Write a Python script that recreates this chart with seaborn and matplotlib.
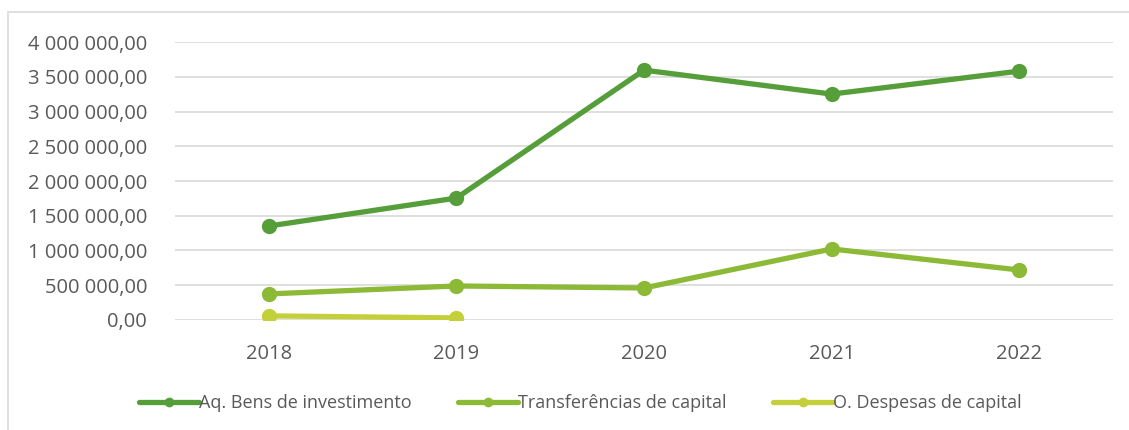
import seaborn as sns
import matplotlib.pyplot as plt
import matplotlib
import pandas as pd
from matplotlib.ticker import FuncFormatter, MultipleLocator
from matplotlib.patches import Rectangle
from matplotlib.lines import Line2D
matplotlib.use('Agg')

anos = ["2018", "2019", "2020", "2021", "2022"]
aq_bens = [1352000, 1755000, 3597000, 3252000, 3583000]
transferencias = [374000, 489000, 460000, 1022000, 719000]
outras_despesas = [58000, 29000]

series = ["Aq. Bens de investimento", "Transferências de capital", "O. Despesas de capital"]
cores = ["#559E3A", "#8CB936", "#C4D03A"]

rows = []
for nome, valores in zip(series, [aq_bens, transferencias, outras_despesas]):
    for ano, v in zip(anos, valores):
        rows.append({"ano": anos.index(ano), "valor": v, "serie": nome})
df = pd.DataFrame(rows)

sns.set_theme(style="white")
plt.rcParams['font.family'] = ['Open Sans', 'DejaVu Sans']

fig = plt.figure(figsize=(11.29, 4.30), dpi=100)
ax = fig.add_axes([0.155, 0.256, 0.831, 0.646])

sns.lineplot(data=df, x="ano", y="valor", hue="serie", hue_order=series,
             palette=cores, marker="o", markersize=11, markeredgewidth=0,
             linewidth=3.8, ax=ax, legend=False)

ax.set_xlim(-0.5, 4.5)
ax.set_ylim(0, 4000000)
ax.yaxis.set_major_locator(MultipleLocator(500000))
ax.yaxis.set_major_formatter(FuncFormatter(
    lambda v, p: f"{v:,.2f}".replace(",", " ").replace(".", ",")))
ax.set_xticks(range(len(anos)))
ax.set_xticklabels(anos)
ax.grid(axis="y", color="#d9d9d9", linewidth=1.2)
ax.set_axisbelow(True)
for s in ax.spines.values():
    s.set_visible(False)
ax.tick_params(axis="both", length=0, labelsize=14.5, labelcolor="#595959")
ax.tick_params(axis="x", pad=17)
ax.tick_params(axis="y", pad=20)
ax.set_xlabel("")
ax.set_ylabel("")

handles = [Line2D([], [], color=c, linewidth=3.8, marker="o", markersize=7,
                  markeredgewidth=0) for c in cores]
ax.legend(handles, series, loc="center", bbox_to_anchor=(0.432, -0.30),
          ncol=3, frameon=False, fontsize=13, labelcolor="#595959",
          handlelength=3.3, handletextpad=0.0, columnspacing=2.6)

fig.add_artist(Rectangle((8 / 1129, -0.1), 1.2, 1 - 12 / 430 + 0.1,
                         transform=fig.transFigure, fill=False,
                         edgecolor="#d9d9d9", linewidth=1.2))

fig.savefig("out.png", dpi=100)
